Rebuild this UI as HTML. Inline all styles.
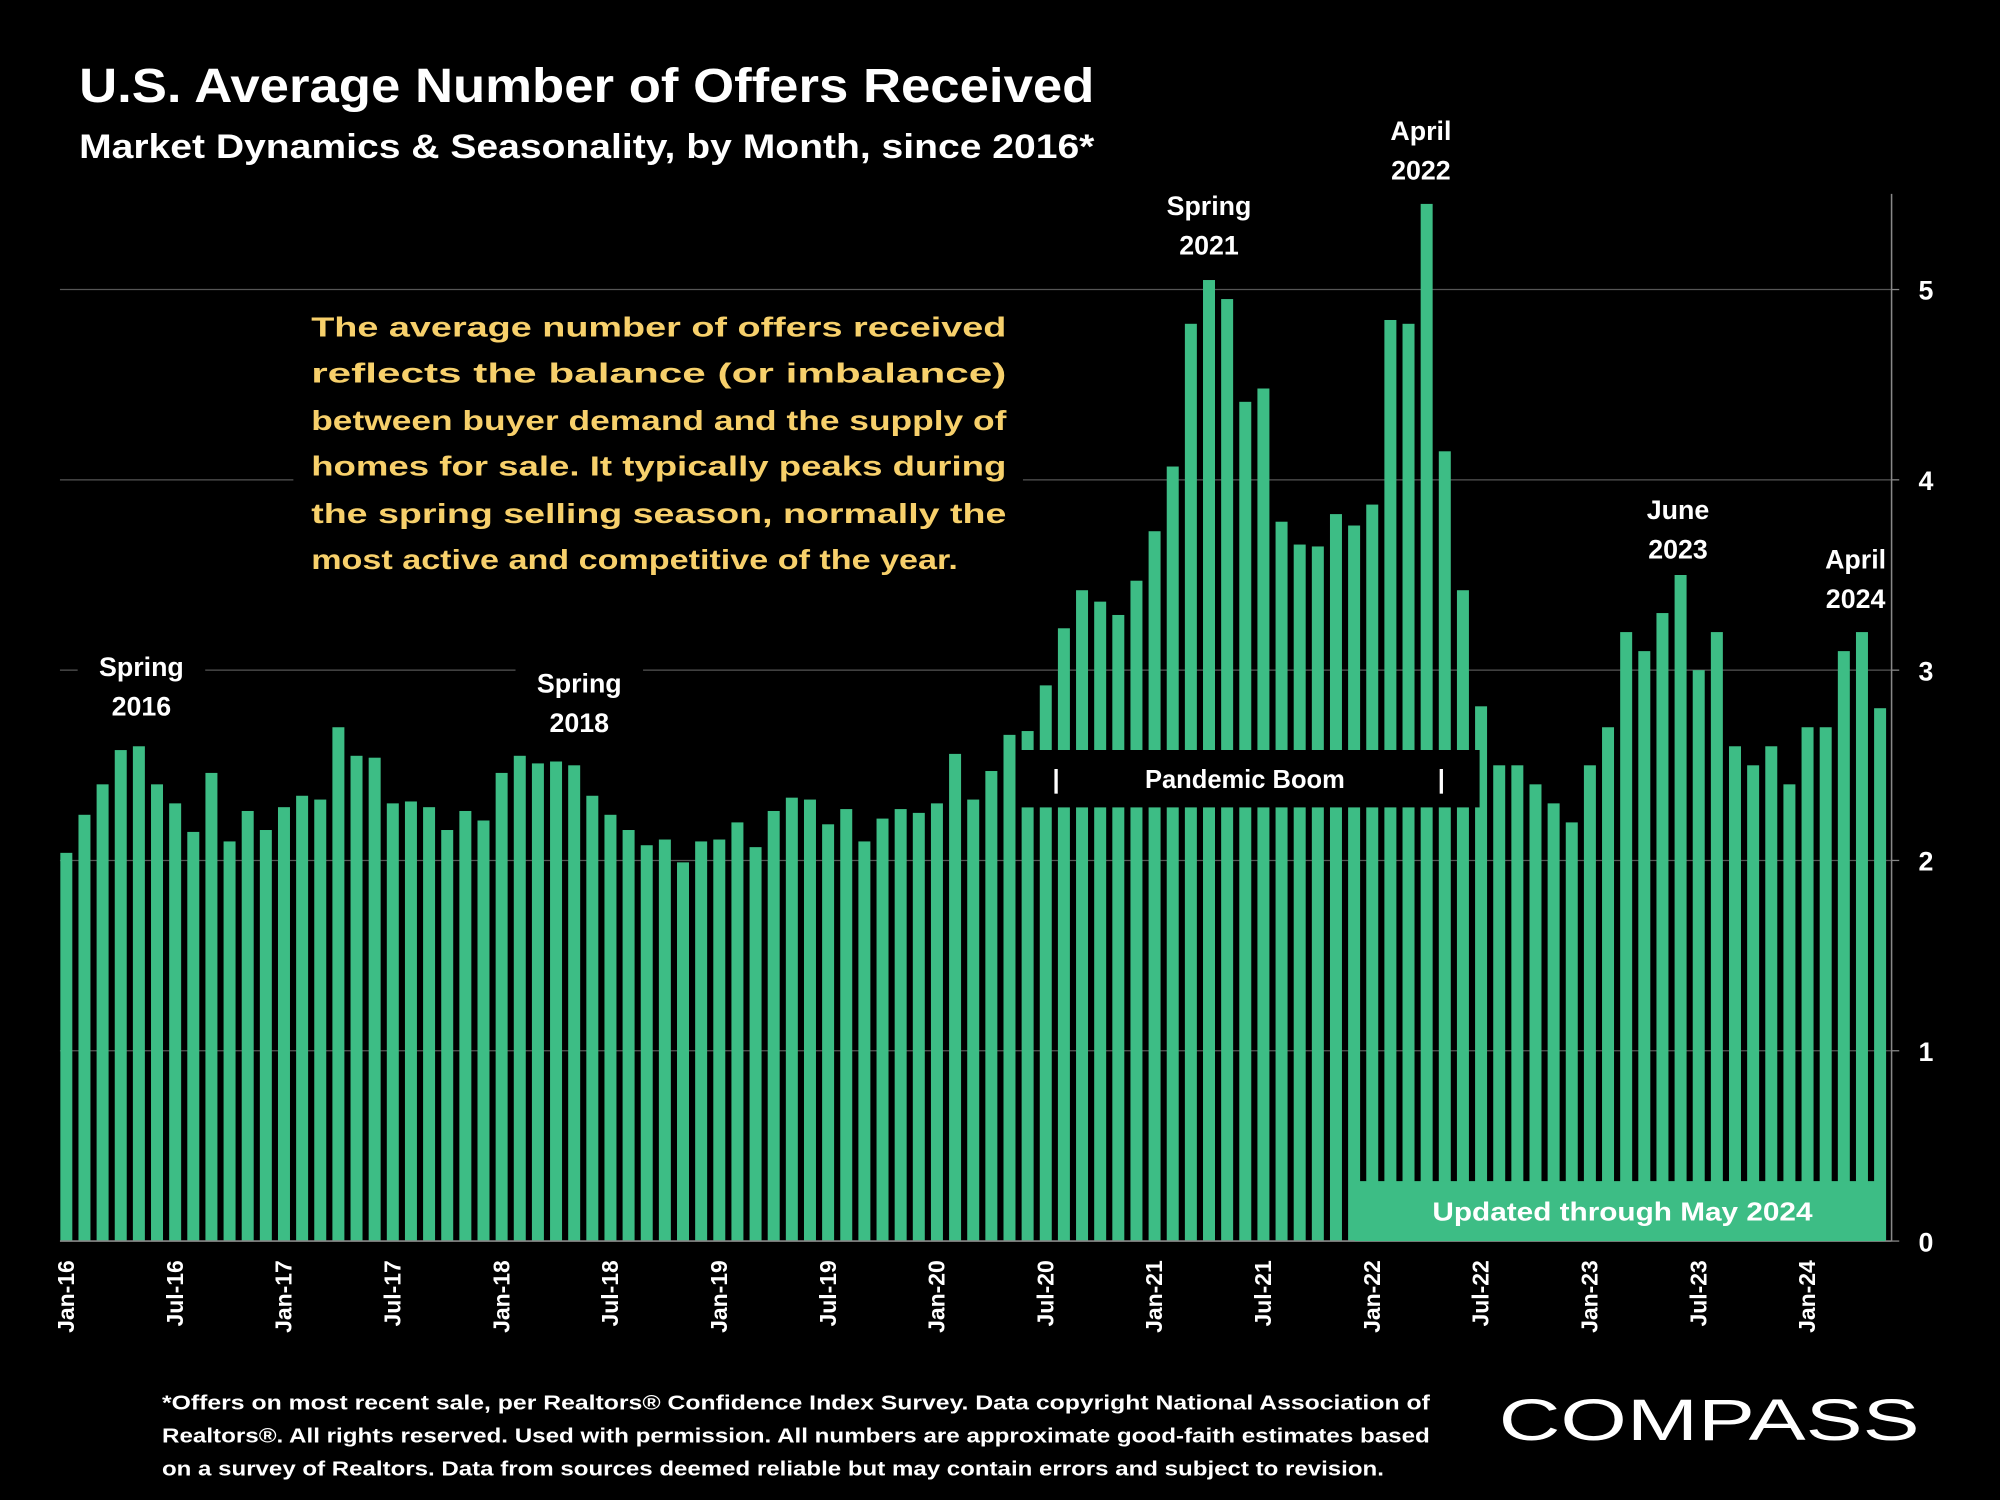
<!DOCTYPE html>
<html><head><meta charset="utf-8"><style>
html,body{margin:0;padding:0;background:#000;}
svg{display:block;}
text{font-family:"Liberation Sans",sans-serif;font-weight:bold;}
</style></head><body>
<svg id="chart" width="2000" height="1500" viewBox="0 0 1568 1176" xmlns="http://www.w3.org/2000/svg">
<rect width="1568" height="1176" fill="#000"/>
<text x="62" y="80" fill="#fff" font-size="38" textLength="796" lengthAdjust="spacingAndGlyphs">U.S. Average Number of Offers Received</text>
<text x="62" y="124" fill="#fff" font-size="27" textLength="796" lengthAdjust="spacingAndGlyphs">Market Dynamics &amp; Seasonality, by Month, since 2016*</text>
<g id="grid"></g>
<g id="bars"></g>
<g id="xlabels"></g>
<g id="ylabels"></g>
<line x1="1483" y1="152" x2="1483" y2="973" stroke="#888" stroke-width="1.2"/>
<line x1="47" y1="973" x2="1483" y2="973" stroke="#888" stroke-width="1.2"/>
<rect x="230" y="236" width="572" height="218" fill="#000"/>
<g fill="#f7d06b" font-size="22">
<text x="244" y="264" textLength="545" lengthAdjust="spacingAndGlyphs">The average number of offers received</text>
<text x="244" y="300" textLength="545" lengthAdjust="spacingAndGlyphs">reflects the balance (or imbalance)</text>
<text x="244" y="337" textLength="545" lengthAdjust="spacingAndGlyphs">between buyer demand and the supply of</text>
<text x="244" y="373" textLength="545" lengthAdjust="spacingAndGlyphs">homes for sale. It typically peaks during</text>
<text x="244" y="410" textLength="545" lengthAdjust="spacingAndGlyphs">the spring selling season, normally the</text>
<text x="244" y="446" textLength="507" lengthAdjust="spacingAndGlyphs">most active and competitive of the year.</text>
</g>
<g id="annotations" font-size="21" fill="#fff" text-anchor="middle"></g>
<rect x="800" y="588" width="360" height="45" fill="#000"/>
<text x="976" y="618" fill="#fff" font-size="20" text-anchor="middle">Pandemic Boom</text>
<text x="828" y="618" fill="#fff" font-size="20" text-anchor="middle">|</text>
<text x="1130" y="618" fill="#fff" font-size="20" text-anchor="middle">|</text>
<rect x="1062" y="926" width="416" height="47" fill="#3dbd85"/>
<text x="1272" y="957" fill="#fff" font-size="20" text-anchor="middle" textLength="298" lengthAdjust="spacingAndGlyphs">Updated through May 2024</text>
<g fill="#fff" font-size="16">
<text x="127" y="1105" textLength="994" lengthAdjust="spacingAndGlyphs">*Offers on most recent sale, per Realtors® Confidence Index Survey. Data copyright National Association of</text>
<text x="127" y="1131" textLength="994" lengthAdjust="spacingAndGlyphs">Realtors®. All rights reserved. Used with permission. All numbers are approximate good-faith estimates based</text>
<text x="127" y="1157" textLength="958" lengthAdjust="spacingAndGlyphs">on a survey of Realtors. Data from sources deemed reliable but may contain errors and subject to revision.</text>
</g>
<text x="1175" y="1129" fill="#fff" font-size="46" style="font-weight:normal" textLength="330" lengthAdjust="spacingAndGlyphs">COMPASS</text>
</svg>
<script>
const values=[2.04,2.24,2.4,2.58,2.6,2.4,2.3,2.15,2.46,2.1,2.26,2.16,
2.28,2.34,2.32,2.7,2.55,2.54,2.3,2.31,2.28,2.16,2.26,2.21,
2.46,2.55,2.51,2.52,2.5,2.34,2.24,2.16,2.08,2.11,1.99,2.1,
2.11,2.2,2.07,2.26,2.33,2.32,2.19,2.27,2.1,2.22,2.27,2.25,
2.3,2.56,2.32,2.47,2.66,2.68,2.92,3.22,3.42,3.36,3.29,3.47,
3.73,4.07,4.82,5.05,4.95,4.41,4.48,3.78,3.66,3.65,3.82,3.76,
3.87,4.84,4.82,5.45,4.15,3.42,2.81,2.5,2.5,2.4,2.3,2.2,
2.5,2.7,3.2,3.1,3.3,3.5,3.0,3.2,2.6,2.5,2.6,2.4,
2.7,2.7,3.1,3.2,2.8];
const yTicks=[0,1,2,3,4,5];
const xTickLabels=["Jan-16","Jul-16","Jan-17","Jul-17","Jan-18","Jul-18","Jan-19","Jul-19","Jan-20","Jul-20","Jan-21","Jul-21","Jan-22","Jul-22","Jan-23","Jul-23","Jan-24"];
const annotationLines=[["Spring","2016"],["Spring","2018"],["Spring","2021"],["April","2022"],["June","2023"],["April","2024"]];
const annotationIndex=[4,28,63,75,89,99];
const NS="http://www.w3.org/2000/svg";
const annDx=[2,4,0,-4.5,-2,-5];
const annDy=[-55,-57,-51,-50,-44,-50];
function y(v){return 973-v*149.2;}
function x(i){return 52+i*(1474-52)/100;}
function mk(tag,attrs,parent){const e=document.createElementNS(NS,tag);for(const k in attrs)e.setAttribute(k,attrs[k]);parent.appendChild(e);return e;}
const grid=document.getElementById('grid');
yTicks.forEach(t=>{if(t===0)return;const l=mk('line',{x1:47,x2:1483,y1:y(t),y2:y(t),stroke:'#555','stroke-width':1},grid);

});
const yl=document.getElementById('ylabels');
yTicks.forEach(t=>{const tx=mk('text',{x:1510,y:y(t)+8,fill:'#fff','font-size':21,'text-anchor':'middle'},yl);tx.textContent=t;


mk('line',{x1:1483,x2:1489,y1:y(t),y2:y(t),stroke:'#888'},yl);});
const bars=document.getElementById('bars');
values.forEach((v,i)=>{const r=mk('rect',{x:x(i)-4.7,y:y(v),width:9.4,height:973-y(v),fill:'#3dbd85'},bars);

});
const xl=document.getElementById('xlabels');
xTickLabels.forEach((s,k)=>{const i=k*6;const tx=mk('text',{transform:`translate(${x(i)+6},988) rotate(-90)`,fill:'#fff','font-size':18,'text-anchor':'end'},xl);tx.textContent=s;

});
const an=document.getElementById('annotations');
annotationLines.forEach((ls,k)=>{const i=annotationIndex[k];const top=y(values[i])+annDy[k];const cx=x(i)+annDx[k];
if(k<2){mk('rect',{x:cx-50,y:top-24,width:100,height:62,fill:'#000'},an);}
ls.forEach((s,j)=>{const tx=mk('text',{x:cx,y:top+j*31,fill:'#fff'},an);tx.textContent=s;

});});
</script>
</body></html>
